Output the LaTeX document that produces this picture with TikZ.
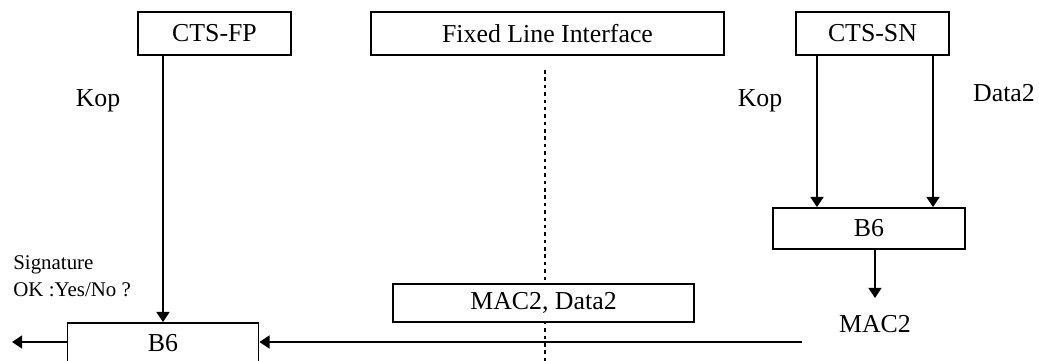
\documentclass[tikz,border=0pt]{standalone}
\usepackage{fontspec}
\setmainfont{Liberation Serif}
\usetikzlibrary{arrows.meta}

\tikzset{
  caja/.style={draw,line width=1pt,fill=white,inner sep=0pt,minimum height=0.86cm},
  flecha/.style={line width=1pt,-{Triangle[width=7.4pt,length=5.8pt]}},
  texto/.style={inner sep=0pt}
}

\begin{document}
\begin{tikzpicture}[x=0.02cm,y=-0.02cm,font=\fontsize{14.7}{17.6}\selectfont]
      \useasboundingbox (0,0) rectangle (1039,361);
      \clip (0,0) rectangle (1039,361);

      % Interfaz
      \draw[line width=1.1pt,dash pattern=on 2pt off 2.2pt] (545,70) -- (545,361);

      % Cajas
      \node[caja,minimum width=3.06cm] (fp) at (214.5,33.5) {CTS-FP};
      \node[caja,minimum width=7.06cm] (fli) at (547.5,33.5) {Fixed Line Interface};
      \node[caja,minimum width=3.06cm] (sn) at (872.5,33.5) {CTS-SN};
      \node[caja,minimum width=3.84cm,minimum height=0.82cm] (b6r) at (869,228.5) {B6};
      \node[caja,minimum width=6.02cm,minimum height=0.76cm] (mac) at (543.5,303) {MAC2, Data2};
      \node[caja,minimum width=3.82cm,minimum height=0.82cm] (b6l) at (163,343.5) {B6};

      % Textos
      \node[texto,anchor=base] (kopfp) at (98,107) {Kop};
      \node[texto,anchor=base] (kopsn) at (760,107) {Kop};
      \node[texto,anchor=base] (data) at (1004,102) {Data2};
      \node[texto] (macsal) at (875,324) {MAC2};
      \node[texto,anchor=west,align=left,font=\fontsize{11.9}{15.3}\selectfont] (firma) at (13,276) {Signature\\OK :Yes/No ?};

      % Flechas
      \coordinate (xkop) at (817,0);
      \coordinate (xdata) at (933,0);
      \coordinate (finmac) at (875,298);
      \coordinate (inicio) at (802,342);
      \coordinate (salida) at (12,342);
      \draw[flecha] (fp.south -| b6l.north) -- (b6l.north);
      \draw[flecha] (sn.south -| xkop) -- (b6r.north -| xkop);
      \draw[flecha] (sn.south -| xdata) -- (b6r.north -| xdata);
      \draw[flecha] (b6r.south -| finmac) -- (finmac);
      \draw[flecha] (inicio) -- (b6l.east |- inicio);
      \draw[flecha] (b6l.west |- salida) -- (salida);
    \end{tikzpicture}
\end{document}
